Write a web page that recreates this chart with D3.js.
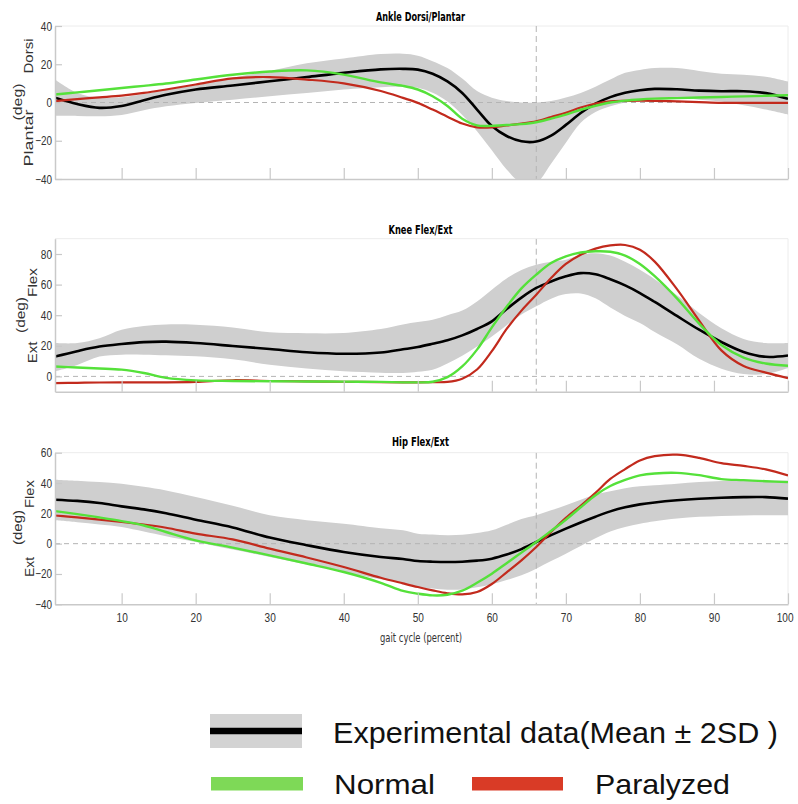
<!DOCTYPE html>
<html><head><meta charset="utf-8">
<script src="https://cdn.jsdelivr.net/npm/d3@7"></script>
<style>body{margin:0;background:#fff}svg{display:block}</style>
</head><body>
<svg id="chart" width="798" height="804"></svg>
<script>
// ---------- DATA ----------
const gait = [1,4,7,10,13,16,20,25,30,35,40,45,48,50,52,54,56,58,60,62,64,66,68,70,72,74,76,78,80,82,85,88,91,94,97,100];
const xTicks = [10,20,30,40,50,60,70,80,90,100];
const toeOffPct = 66;
const panelTitles = ["Ankle Dorsi/Plantar", "Knee Flex/Ext", "Hip Flex/Ext"];
const posLabels = ["Dorsi", "Flex", "Flex"];
const negLabels = ["Plantar", "Ext", "Ext"];
const unitLabel = "(deg)";
const xLabel = "gait cycle (percent)";
const yDomains = [[-40,40],[-10,90],[-40,60]];
const yTicksAnkle = [-40,-20,0,20,40];
const yTicksKnee = [0,20,40,60,80];
const yTicksHip = [-40,-20,0,20,40,60];

const ankleMean = [2.5,-0.8,-2.8,-1.8,1.2,4,6.8,8.9,11.1,13.3,15.5,17.3,17.6,17.2,15,11,5,-3.7,-12.3,-17.5,-20.3,-20.4,-17.3,-11.7,-5.5,-0.6,2.8,5.1,6.4,7.1,6.9,6.2,5.9,5.9,4.9,1.9];
const ankleUpper = [12,5,2.5,2.8,4.5,6.5,9,13,16.5,20.5,23,25.3,25.5,24.5,21.6,18,12.5,6,2.5,0.8,0,0,0.8,2.6,5,8.3,12,15.5,17,18,18,16.5,15,14.5,13.5,11];
const ankleLower = [-7,-7,-7.2,-6.5,-4,-2,-0.2,1.5,3.3,5,6.8,8,8.2,7.7,5.1,0.5,-6.5,-15,-25,-35,-42,-42,-32,-21,-10.6,-5,-2,0,0.7,2,2.6,1.5,0.5,-1.5,-3.7,-6.3];
const ankleNormal = [4.2,5.3,6.4,7.6,8.7,9.9,12,14.5,16.2,16.8,14.6,10.5,8.7,6.8,3.3,-1.8,-8.5,-12,-12.2,-11.8,-11.3,-10.3,-8.4,-6.3,-3.8,-1.7,0,1,1.6,2,2.3,2.6,2.9,3.2,3.5,3.8];
const ankleParalyzed = [0.7,1.8,2.7,3.6,5,6.8,9.4,12.6,13.3,12,10,6,2.4,-0.2,-3.7,-7.4,-11,-13,-13,-12,-11,-9.8,-7.6,-5.4,-2.6,-0.5,0.6,0.9,1,0.9,0.6,0.2,-0.2,-0.2,-0.2,-0.2];

const kneeMean = [13,16.5,19.5,21.2,22.4,22.7,21.8,19.9,17.9,15.8,14.8,15.6,17.7,19.2,21.3,23.6,26.8,31,36,44,51.5,57.8,62,65.4,67.5,66.7,63.5,59.5,54.5,48.7,39.5,30.5,22.5,16,12.8,13.7];
const kneeUpper = [21.8,21.8,25,30.5,33,34,33.8,32,28.8,28.2,28.4,31,34,35.5,37,40,43,49,56.7,64,69.5,73,75,76.3,79.5,80.5,79,75,69.7,63.5,53,41.5,31.5,24.5,21.8,21.8];
const kneeLower = [3.3,7.5,13,14.2,14.2,13.8,13.1,11.2,7.6,5.2,3.3,2.4,2.2,3,4.4,8.5,13.5,19.5,26.1,33.5,40.5,45.8,50.8,53.8,54.2,51,45,39.5,34.9,29,21,11.5,5,1.5,1.5,5.5];
const kneeNormal = [6.5,5.8,5.2,4.4,2.2,-1,-2.6,-3,-3.2,-3.3,-3.4,-3.6,-3.9,-3.9,-3.5,-0.5,6.5,17.5,32,45.5,57.5,66.5,74.1,78.5,81,81.8,81.5,79,73.5,65.5,51,34.5,20.5,12.3,8.4,7];
const kneeParalyzed = [-4.4,-4.2,-4,-3.9,-3.9,-3.9,-3.6,-2.5,-3,-3.3,-3.5,-3.7,-3.9,-3.9,-3.8,-3.6,-1.5,4.5,16.5,31,43,53.4,64.3,73.5,79.5,83.5,85.6,85.9,82.8,75,57,36.5,17,6.8,2.5,-1.1];

const hipMean = [29,28.2,26.8,24.6,22.6,20,15.8,10.7,4,-1,-5.5,-8.8,-10.1,-11.4,-11.9,-12.1,-11.9,-11.2,-9.9,-7.2,-3.6,1.1,5.6,9.9,14,17.8,21.3,24,25.9,27.2,28.6,29.6,30.3,30.7,30.7,29.7];
const hipUpper = [42.2,41.5,40.6,39.6,37.5,35.1,30.7,25,18.7,15.5,13.2,10.2,8.8,6.6,6,5.5,5.8,7,8.8,12.5,16.2,18.7,22,25.3,29,32.4,34.6,36.6,37.8,38.6,39.6,40.6,41.4,41.6,41.7,41.7];
const hipLower = [15.4,14.1,12.6,11,8,4.9,1.1,-3.9,-8.8,-13.7,-18.7,-23.5,-25.8,-28.6,-29.6,-30.4,-30.2,-28.8,-26.7,-24,-20.9,-16.5,-11.5,-6.6,-1.5,3.5,8,11,13.2,14.8,16.6,17.7,18.3,18.6,18.7,18.7];
const hipNormal = [21.5,19.5,17.3,14.9,12,7.7,2.2,-2.6,-7.7,-13.1,-18.7,-25.8,-31.2,-33,-34.1,-33.7,-31,-25.8,-19.8,-12.9,-5.9,1.1,8.4,15.8,24,32,38,42,45,46.3,46.7,45.2,42.6,41.9,41.2,40.6];
const hipParalyzed = [18.7,17.3,15.8,14.3,12.6,10.5,6.6,2.8,-3.3,-9.1,-15.4,-22.5,-26.2,-28.6,-30.8,-32.7,-33.5,-31.9,-26.6,-18.9,-11,-2.2,7.7,17,25,33.5,42.7,49.2,54.9,57.7,58.7,56.6,53.1,51.3,49,45];

const legendLabels = ["Experimental data(Mean \u00b1 2SD )", "Normal", "Paralyzed"];

// ---------- LAYOUT / STYLE ----------
const W = 798, H = 804;
const left = 55, right = 788;
const panelBox = [{top:26, bottom:179}, {top:238.7, bottom:391.7}, {top:452.7, bottom:604.3}];
const yTickSets = [yTicksAnkle, yTicksKnee, yTicksHip];
const meanS = [ankleMean, kneeMean, hipMean];
const upS = [ankleUpper, kneeUpper, hipUpper];
const loS = [ankleLower, kneeLower, hipLower];
const normS = [ankleNormal, kneeNormal, hipNormal];
const parS = [ankleParalyzed, kneeParalyzed, hipParalyzed];
const titleY = [20.5, 234, 445.5];
const titleLen = [89, 64, 57];
const labX = [29, 33, 30];
const degX = [17.5, 21, 17.5];
const posY = [56, 282.5, 494];
const posLen = [35, 29, 28];
const negY = [138, 352.5, 567];
const negLen = [57, 21.6, 20];
const degY = [102, 315, 527.5];
const degLen = [37, 36, 35];

const C_AXIS = "#c9c9c9", C_BAND = "#cfcfcf", C_GREEN = "#55e13a", C_RED = "#c22a1d";
const narrow = "'Liberation Sans Narrow','DejaVu Sans Condensed','Liberation Sans',Arial,sans-serif";
const sans = "'Liberation Sans',Arial,sans-serif";

const svg = d3.select("#chart");
svg.append("rect").attr("width", W).attr("height", H).attr("fill", "#fff");

const x = d3.scaleLinear().domain([1,100]).range([left, right]);
const tickTextLen = s => { const t = String(s); return t.replace("-", "").length * 5.6 + (t.includes("-") ? 4 : 0); };

panelTitles.forEach((title, i) => {
  const box = panelBox[i];
  const y = d3.scaleLinear().domain(yDomains[i]).range([box.bottom, box.top]);
  const g = svg.append("g");
  const clipId = "clip" + i;
  svg.append("clipPath").attr("id", clipId).append("rect")
    .attr("x", left).attr("y", box.top).attr("width", right - left).attr("height", box.bottom - box.top);

  // frame top/right
  g.append("line").attr("x1", left).attr("x2", right).attr("y1", box.top).attr("y2", box.top)
    .attr("stroke", "#ececec").attr("stroke-width", 1);
  g.append("line").attr("x1", right).attr("x2", right).attr("y1", box.top).attr("y2", box.bottom)
    .attr("stroke", "#ececec").attr("stroke-width", 1);

  const idx = d3.range(gait.length);
  const plot = g.append("g").attr("clip-path", `url(#${clipId})`);

  // band
  const area = d3.area().x(d => x(gait[d])).y0(d => y(loS[i][d])).y1(d => y(upS[i][d]))
    .curve(d3.curveCatmullRom.alpha(0.5));
  plot.append("path").datum(idx).attr("d", area).attr("fill", C_BAND);

  // dashed references
  plot.append("line").attr("x1", left).attr("x2", right).attr("y1", y(0)).attr("y2", y(0))
    .attr("stroke", "#b4b4b4").attr("stroke-width", 1).attr("stroke-dasharray", "5,4");
  plot.append("line").attr("x1", x(toeOffPct)).attr("x2", x(toeOffPct)).attr("y1", box.top).attr("y2", box.bottom)
    .attr("stroke", "#b4b4b4").attr("stroke-width", 1).attr("stroke-dasharray", "6,4");

  const line = s => d3.line().x(d => x(gait[d])).y(d => y(s[d])).curve(d3.curveCatmullRom.alpha(0.5));
  plot.append("path").datum(idx).attr("d", line(meanS[i])).attr("fill", "none").attr("stroke", "#000").attr("stroke-width", 2.6);
  plot.append("path").datum(idx).attr("d", line(parS[i])).attr("fill", "none").attr("stroke", C_RED).attr("stroke-width", 2.2);
  plot.append("path").datum(idx).attr("d", line(normS[i])).attr("fill", "none").attr("stroke", C_GREEN).attr("stroke-width", 2.4);

  // axes
  const yAxis = d3.axisLeft(y).tickValues(yTickSets[i]).tickSize(-7).tickSizeOuter(0).tickPadding(3);
  const ya = g.append("g").attr("transform", `translate(${left},0)`).call(yAxis);
  const xAxis = d3.axisBottom(x).tickValues(xTicks).tickSize(-11).tickSizeOuter(0).tickPadding(8.5);
  if (i < 2) xAxis.tickFormat("");
  const xa = g.append("g").attr("transform", `translate(0,${box.bottom})`).call(xAxis);
  [ya, xa].forEach(a => {
    a.select(".domain").attr("stroke", C_AXIS).attr("stroke-width", 1.5);
    a.selectAll(".tick line").attr("stroke", C_AXIS).attr("stroke-width", 1.2);
    a.selectAll(".tick text").attr("fill", "#333").style("font-family", sans).style("font-size", "12.5px")
      .each(function() {
        const t = d3.select(this).text();
        if (t) d3.select(this).attr("textLength", tickTextLen(t)).attr("lengthAdjust", "spacingAndGlyphs");
      });
  });
  // keep the last x label inside the canvas
  xa.selectAll(".tick text").filter(d => d === 100).attr("text-anchor", "end").attr("x", 5);

  // title
  g.append("text").attr("x", 420.5).attr("y", titleY[i]).attr("text-anchor", "middle")
    .attr("textLength", titleLen[i]).attr("lengthAdjust", "spacingAndGlyphs")
    .style("font-family", narrow).style("font-size", "12px").style("font-weight", "bold").attr("fill", "#000").text(title);

  // y labels
  const rot = (tx, ty, txt, len) => g.append("text")
    .attr("transform", `translate(${tx},${ty}) rotate(-90)`).attr("text-anchor", "middle")
    .attr("dominant-baseline", "central").attr("textLength", len).attr("lengthAdjust", "spacingAndGlyphs")
    .style("font-family", sans).style("font-size", "12px").attr("fill", "#333").text(txt);
  rot(labX[i], posY[i], posLabels[i], posLen[i]);
  rot(labX[i], negY[i], negLabels[i], negLen[i]);
  rot(degX[i], degY[i], unitLabel, degLen[i]);
});

// x label
svg.append("text").attr("x", 421).attr("y", 642).attr("text-anchor", "middle")
  .attr("textLength", 82).attr("lengthAdjust", "spacingAndGlyphs")
  .style("font-family", narrow).style("font-size", "11.5px").attr("fill", "#333").text(xLabel);

// ---------- LEGEND ----------
const lg = svg.append("g");
lg.append("rect").attr("x", 210).attr("y", 714).attr("width", 92).attr("height", 34).attr("fill", "#d3d3d3");
lg.append("line").attr("x1", 210).attr("x2", 302).attr("y1", 731).attr("y2", 731).attr("stroke", "#000").attr("stroke-width", 6.5);
lg.append("text").attr("x", 333).attr("y", 743).attr("textLength", 445).attr("lengthAdjust", "spacingAndGlyphs")
  .style("font-family", sans).style("font-size", "30px").attr("fill", "#111").text(legendLabels[0]);
lg.append("rect").attr("x", 211).attr("y", 777).attr("width", 92).attr("height", 13.5).attr("fill", "#7ed957");
lg.append("text").attr("x", 334).attr("y", 794).attr("textLength", 101).attr("lengthAdjust", "spacingAndGlyphs")
  .style("font-family", sans).style("font-size", "28px").attr("fill", "#111").text(legendLabels[1]);
lg.append("rect").attr("x", 472).attr("y", 777).attr("width", 91).attr("height", 13.5).attr("fill", "#d93b26");
lg.append("text").attr("x", 595).attr("y", 794).attr("textLength", 135).attr("lengthAdjust", "spacingAndGlyphs")
  .style("font-family", sans).style("font-size", "28px").attr("fill", "#111").text(legendLabels[2]);
</script>
</body></html>
